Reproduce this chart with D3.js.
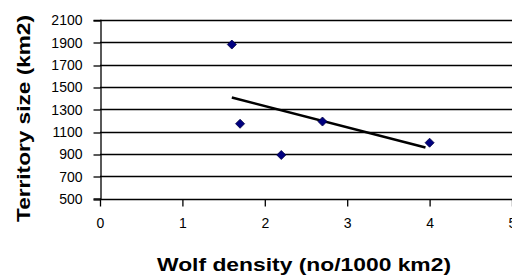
<!DOCTYPE html>
<html>
<head>
<meta charset="utf-8">
<script src="https://cdn.jsdelivr.net/npm/d3@7"></script>
<style>
  html, body { margin: 0; padding: 0; background: #fff; }
  svg { display: block; }
  text { font-family: "Liberation Sans", Arial, sans-serif; fill: #000; }
</style>
</head>
<body>
<svg id="chart" width="512" height="277"></svg>
<script>
// ---- data ----
const densityX = [1.6, 1.7, 2.2, 2.7, 4.0];
const territoryY = [1880, 1170, 890, 1190, 1000];
const trendX = [1.6, 3.95];
const trendY = [1405, 958];
const xTicks = [0, 1, 2, 3, 4, 5];
const yTicks = [500, 700, 900, 1100, 1300, 1500, 1700, 1900, 2100];
const xTitle = "Wolf density (no/1000 km2)";
const yTitle = "Territory size (km2)";

// ---- layout ----
const W = 512, H = 277;
const svg = d3.select("#chart");
const x = d3.scaleLinear().domain([0, 5]).range([100, 512]);
const y = d3.scaleLinear().domain([500, 2100]).range([198.5, 20]);

// gridlines
svg.append("g").selectAll("line").data(yTicks).join("line")
  .attr("x1", 100).attr("x2", W)
  .attr("y1", d => Math.round(y(d)) + 0.5).attr("y2", d => Math.round(y(d)) + 0.5)
  .attr("stroke", "#000").attr("stroke-width", 1.3);

// y axis
const yAxis = d3.axisLeft(y).tickValues(yTicks).tickSize(7).tickPadding(11).tickFormat(d3.format("d"));
const gy = svg.append("g").attr("transform", "translate(100.5,0)").call(yAxis);
gy.select(".domain").attr("stroke", "#000").attr("stroke-width", 1.3);
gy.selectAll(".tick line").attr("stroke", "#000").attr("stroke-width", 1.3)
  .attr("transform", function(d){ return "translate(0," + (Math.round(y(d)) + 0.5 - y(d)) + ")"; });
gy.selectAll(".tick text").style("font-size", "14px").style("font-family", "Liberation Sans, Arial, sans-serif")
  .attr("fill", "#000").attr("dy", "0.35em");

// x axis
const xAxis = d3.axisBottom(x).tickValues(xTicks).tickSize(7).tickPadding(12).tickFormat(d3.format("d"));
const gx = svg.append("g").attr("transform", "translate(0," + (Math.round(y(500)) + 0.5) + ")").call(xAxis);
gx.select(".domain").remove();
gx.selectAll(".tick line").attr("stroke", "#000").attr("stroke-width", 1.3);
gx.selectAll(".tick text").style("font-size", "14px").style("font-family", "Liberation Sans, Arial, sans-serif")
  .attr("fill", "#000");

// trend line
svg.append("path")
  .datum(trendX.map((d, i) => [d, trendY[i]]))
  .attr("d", d3.line().x(d => x(d[0])).y(d => y(d[1])))
  .attr("fill", "none").attr("stroke", "#000").attr("stroke-width", 2.6);

// markers (diamonds)
const sym = d3.symbol().type(d3.symbolDiamond2).size(52);
svg.append("g").selectAll("path").data(densityX.map((d, i) => [d, territoryY[i]])).join("path")
  .attr("d", sym)
  .attr("transform", d => "translate(" + x(d[0]) + "," + y(d[1]) + ")")
  .attr("fill", "#000080").attr("stroke", "#000040").attr("stroke-width", 0.8);

// axis titles
svg.append("text")
  .attr("x", 304).attr("y", 271)
  .attr("text-anchor", "middle")
  .attr("textLength", 294).attr("lengthAdjust", "spacingAndGlyphs")
  .style("font-size", "19px").style("font-weight", "bold")
  .text(xTitle);

svg.append("text")
  .attr("transform", "translate(30,118.5) rotate(-90)")
  .attr("text-anchor", "middle")
  .attr("textLength", 207).attr("lengthAdjust", "spacingAndGlyphs")
  .style("font-size", "19px").style("font-weight", "bold")
  .text(yTitle);
</script>
</body>
</html>
